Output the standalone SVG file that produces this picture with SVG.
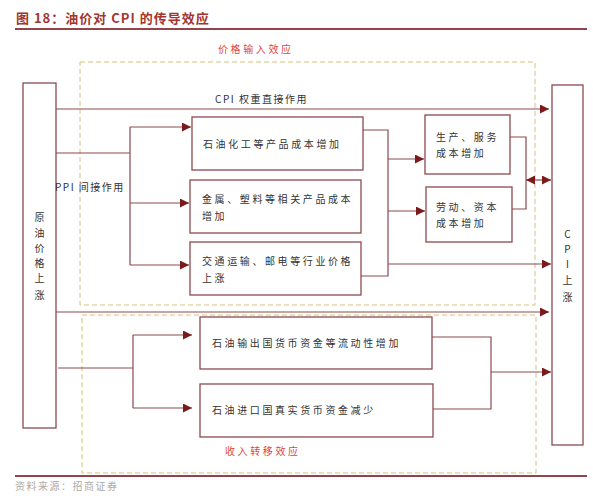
<svg xmlns="http://www.w3.org/2000/svg" width="593" height="498" viewBox="0 0 593 498">
<style>
.t{font-family:"Noto Sans CJK SC","Liberation Sans",sans-serif;font-size:10px;fill:#333;letter-spacing:2.6px}
.box{fill:#fff;stroke:#8c4a4f;stroke-width:1.3}
.dash{fill:none;stroke:#d8c07a;stroke-width:1;stroke-dasharray:5,3}
.ln{fill:none;stroke:#8c4a4f;stroke-width:1.2}
.lbl{font-family:"Noto Sans CJK SC","Liberation Sans",sans-serif;font-size:10px;fill:#e0443e;letter-spacing:2.6px}
</style>
<defs>
<marker id="ah" viewBox="0 0 10 10" refX="10" refY="5" markerWidth="9" markerHeight="9" markerUnits="userSpaceOnUse" orient="auto-start-reverse">
<path d="M0,0 L10,5 L0,10 z" fill="#7a1a1a"/>
</marker>
</defs>
<rect width="593" height="498" fill="#fff"/>
<text x="16" y="23" font-family="Noto Sans CJK SC,Liberation Sans,sans-serif" font-size="13" font-weight="bold" fill="#a3352e" letter-spacing="1">图 18：油价对 CPI 的传导效应</text>
<line x1="15" y1="29" x2="587" y2="29" stroke="#93434a" stroke-width="2"/>
<g id="input-effect">
<rect class="dash" x="80" y="62" width="455" height="243"/>
<text class="lbl" x="218" y="53">价格输入效应</text>
</g>
<g id="transfer-effect">
<rect class="dash" x="82" y="315" width="454" height="158"/>
<text class="lbl" x="225" y="455">收入转移效应</text>
</g>
<g id="connectors">
<line class="ln" x1="56" y1="109" x2="549" y2="109" marker-end="url(#ah)"/>
<path class="ln" d="M56,153 H130 M130,127 V265"/>
<line class="ln" x1="130" y1="127" x2="191" y2="127" marker-end="url(#ah)"/>
<line class="ln" x1="130" y1="203" x2="189" y2="203" marker-end="url(#ah)"/>
<line class="ln" x1="130" y1="265" x2="189" y2="265" marker-end="url(#ah)"/>
<path class="ln" d="M363,130 H388 V276 H361"/>
<line class="ln" x1="388" y1="159" x2="424" y2="159" marker-end="url(#ah)"/>
<line class="ln" x1="388" y1="211" x2="425" y2="211" marker-end="url(#ah)"/>
<line class="ln" x1="388" y1="264" x2="551" y2="264" marker-end="url(#ah)"/>
<path class="ln" d="M510,137 H526 V209 H512"/>
<line class="ln" x1="526" y1="180" x2="551" y2="180" marker-start="url(#ah)" marker-end="url(#ah)"/>
<line class="ln" x1="56" y1="312" x2="549" y2="312" marker-end="url(#ah)"/>
<path class="ln" d="M58,368 H133 M133,335 V408"/>
<line class="ln" x1="133" y1="335" x2="192" y2="335" marker-end="url(#ah)"/>
<line class="ln" x1="133" y1="408" x2="192" y2="408" marker-end="url(#ah)"/>
<path class="ln" d="M432,337 H491 V409 H433"/>
<line class="ln" x1="491" y1="372" x2="551" y2="372" marker-end="url(#ah)"/>
</g>
<g id="crude">
<rect class="box" x="23" y="83" width="33" height="345"/>
<text class="t" x="39.5" text-anchor="middle" style="letter-spacing:0"><tspan x="39.5" y="221">原</tspan><tspan x="39.5" y="237">油</tspan><tspan x="39.5" y="252">价</tspan><tspan x="39.5" y="267">格</tspan><tspan x="39.5" y="282">上</tspan><tspan x="39.5" y="299">涨</tspan></text>
</g>
<g id="cpi-label"><text class="t" x="215" y="103" style="letter-spacing:1.5px">CPI 权重直接作用</text></g>
<g id="ppi-label"><text class="t" x="55" y="191" style="letter-spacing:1.5px">PPI 间接作用</text></g>
<g id="petro">
<rect class="box" x="192" y="117" width="171" height="53"/>
<text class="t" x="203" y="148">石油化工等产品成本增加</text>
</g>
<g id="metal">
<rect class="box" x="190" y="180" width="171" height="53"/>
<text class="t" x="202" y="203">金属、塑料等相关产品成本</text>
<text class="t" x="202" y="220">增加</text>
</g>
<g id="transport">
<rect class="box" x="190" y="242" width="171" height="53"/>
<text class="t" x="202" y="265">交通运输、邮电等行业价格</text>
<text class="t" x="202" y="282">上涨</text>
</g>
<g id="production">
<rect class="box" x="425" y="115" width="85" height="59"/>
<text class="t" x="436" y="141">生产、服务</text>
<text class="t" x="436" y="157">成本增加</text>
</g>
<g id="labor">
<rect class="box" x="426" y="187" width="86" height="55"/>
<text class="t" x="436" y="211">劳动、资本</text>
<text class="t" x="436" y="227">成本增加</text>
</g>
<g id="cpi">
<rect class="box" x="552" y="85" width="31" height="360"/>
<text class="t" style="letter-spacing:0" text-anchor="middle"><tspan x="567.5" y="238">C</tspan><tspan x="567.5" y="253">P</tspan><tspan x="567.5" y="268">I</tspan><tspan x="567.5" y="284">上</tspan><tspan x="567.5" y="301">涨</tspan></text>
</g>
<g id="exporter">
<rect class="box" x="200" y="317" width="232" height="52"/>
<text class="t" x="212" y="347">石油输出国货币资金等流动性增加</text>
</g>
<g id="importer">
<rect class="box" x="200" y="384" width="233" height="53"/>
<text class="t" x="212" y="414">石油进口国真实货币资金减少</text>
</g>
<line x1="15" y1="476" x2="587" y2="476" stroke="#93434a" stroke-width="2"/>
<text x="15" y="490" font-family="Noto Sans CJK SC,Liberation Sans,sans-serif" font-size="10" fill="#aaa" letter-spacing="1.5">资料来源：招商证券</text>
</svg>
